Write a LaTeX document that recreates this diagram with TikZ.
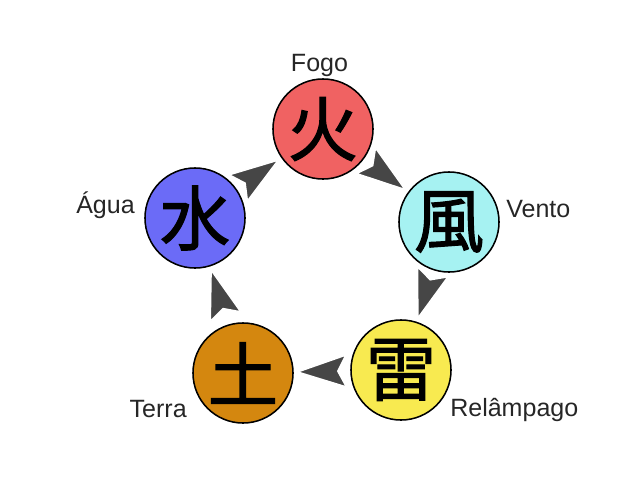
\documentclass[tikz,border=0pt]{standalone}
\usepackage{fontspec}
\setmainfont{Liberation Sans}
\newfontfamily\cjk[FakeBold=1.6]{Noto Sans CJK JP}
\usetikzlibrary{arrows.meta}
\definecolor{fogocol}{RGB}{240,98,98}
\definecolor{ventocol}{RGB}{166,242,242}
\definecolor{raiocol}{RGB}{248,234,80}
\definecolor{terracol}{RGB}{212,135,15}
\definecolor{aguacol}{RGB}{107,107,247}
\definecolor{arrgray}{RGB}{70,70,70}
\begin{document}
\begin{tikzpicture}[x=0.025cm,y=-0.025cm,
        elem/.style={circle,draw=black,line width=1.1pt,minimum size=2.5cm,inner sep=0pt,font=\cjk\fontsize{50}{50}\selectfont},
        lbl/.style={inner sep=0pt,text=black!85,font=\fontsize{17.8}{20}\selectfont},
        flow/.style={white,line width=0.2pt,shorten >=0.04cm,-{Stealth[length=1.3cm,width=0.85cm,inset=0.22cm,fill=arrgray,line width=1pt]}}]
        \useasboundingbox (0,0) rectangle (640,480);
        % the five elements
        \node[elem,fill=fogocol] (fogo) at (323,129) {火};
        \node[elem,fill=ventocol] (vento) at (449,222) {風};
        \node[elem,fill=raiocol] (raio) at (401,370) {雷};
        \node[elem,fill=terracol] (terra) at (243,373) {土};
        \node[elem,fill=aguacol] (agua) at (195,218) {水};
        \node[lbl,anchor=base] (lfogo) at (319.5,71) {Fogo};
        \node[lbl,anchor=base west] (lvento) at (506,217) {Vento};
        \node[lbl,anchor=base west] (lraio) at (450,416) {Relâmpago};
        \node[lbl,anchor=base east] (lterra) at (187,417) {Terra};
        \node[lbl,anchor=base east] (lagua) at (135,213) {Água};
        % cycle
        \draw[flow] (fogo) -- (vento);
        \draw[flow] (vento) -- (raio);
        \draw[flow] (raio) -- (terra);
        \draw[flow] (terra) -- (agua);
        \draw[flow] (agua) -- (fogo);
    \end{tikzpicture}
\end{document}
